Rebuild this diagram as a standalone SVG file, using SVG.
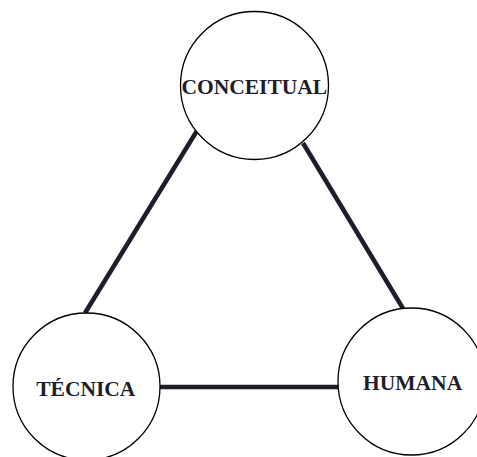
<svg xmlns="http://www.w3.org/2000/svg" width="477" height="457" viewBox="0 0 477 457">
<style>
.node{fill:#ffffff;stroke:#000000;stroke-width:1.3}
.lbl{font-family:"Liberation Serif","Times New Roman",serif;font-weight:bold;font-size:21.5px;fill:#1e1e2a;text-anchor:middle}
.edge{stroke:#1e1e2a;stroke-width:4.5;fill:none}
</style>
<rect width="477" height="457" fill="#ffffff"/>
<g id="connectors">
<line class="edge" x1="85" y1="313" x2="196.5" y2="131.5"/>
<line class="edge" x1="303" y1="143" x2="403" y2="308.5"/>
<line class="edge" x1="160" y1="387" x2="338" y2="387"/>
</g>
<g id="conceitual">
<circle class="node" cx="254.5" cy="85.5" r="74"/>
<text class="lbl" x="254.3" y="94.3">CONCEITUAL</text>
</g>
<g id="tecnica">
<circle class="node" cx="86.5" cy="386.5" r="73.5"/>
<text class="lbl" x="85.8" y="396">TÉCNICA</text>
</g>
<g id="humana">
<circle class="node" cx="411.5" cy="381.5" r="73.5"/>
<text class="lbl" x="412.6" y="390">HUMANA</text>
</g>
</svg>
